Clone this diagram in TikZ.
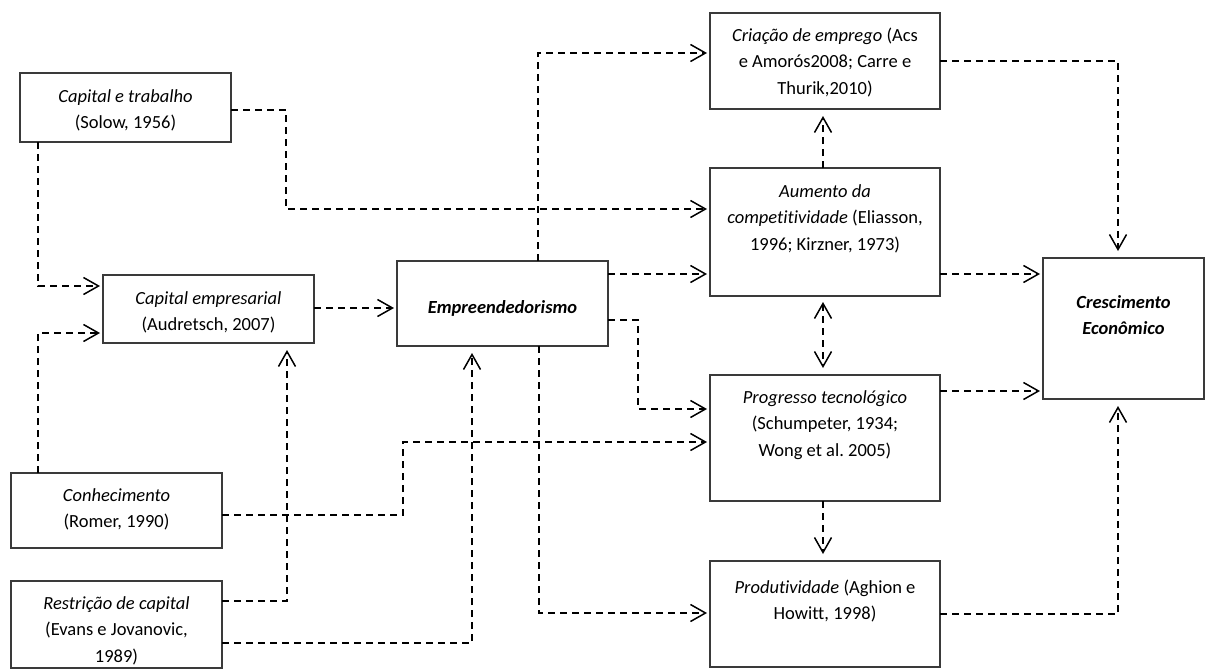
\documentclass[tikz,border=0pt]{standalone}
\usepackage{fontspec}
\setmainfont{Carlito}[Ligatures={NoCommon}]
\usetikzlibrary{arrows.meta}
\frenchspacing
\definecolor{boxgray}{HTML}{3A3A3A}
\newcommand{\bxt}[4]{\parbox[c][#2pt][t]{#1pt}{\centering\fontsize{18.5pt}{26.5pt}\selectfont\rule{0pt}{#3pt}#4\par}}
\tikzset{
  bx/.style={draw=boxgray, line width=1.1pt, inner sep=0pt, outer sep=0pt, anchor=north west},
  con/.style={draw=black, line width=1.5pt, dash pattern=on 7pt off 5pt, -{Straight Barb[length=15pt,width=17pt,line width=1.5pt]}},
  hcon/.style={con, shorten >=3pt},
  vcon/.style={con, shorten >=7pt},
}
\begin{document}
\begin{tikzpicture}[x=1pt,y=-1pt]
\useasboundingbox (0,0) rectangle (1205,670);
% boxes
\node[bx] (ct) at (20,73)   {\bxt{211}{69}{29}{\textit{Capital e trabalho}\\(Solow, 1956)}};
\node[bx] (ce) at (103,275) {\bxt{211}{68}{29}{\textit{Capital empresarial}\\(Audretsch, 2007)}};
\node[bx] (cn) at (11,473)  {\bxt{211}{75}{28}{\textit{Conhecimento}\\(Romer, 1990)}};
\node[bx] (rs) at (11,581)  {\bxt{211}{87}{28}{\textit{Restrição de capital}\\(Evans e Jovanovic,\\1989)}};
\node[bx] (em) at (397,261) {\bxt{211}{85}{52}{\textbf{\textit{Empreendedorismo}}}};
\node[bx] (cr) at (710,13)  {\bxt{230}{96}{28}{\textit{Criação de emprego} (Acs\\e Amorós2008; Carre e\\Thurik,2010)}};
\node[bx] (au) at (710,168) {\bxt{230}{128}{29}{\textit{Aumento da}\\\textit{competitividade} (Eliasson,\\1996; Kirzner, 1973)}};
\node[bx] (pr) at (710,375) {\bxt{230}{126}{28}{\textit{Progresso tecnológico}\\(Schumpeter, 1934;\\Wong et al. 2005)}};
\node[bx] (pd) at (710,561) {\bxt{230}{106}{32}{\textit{Produtividade} (Aghion e\\Howitt, 1998)}};
\node[bx] (gr) at (1043,258){\bxt{161}{141}{50}{\textbf{\textit{Crescimento}}\\\textbf{\textit{Econômico}}}};
% connectors
\draw[hcon] (ct.east |- 0,110) -- (286,110) |- (au.west |- 0,209);
\draw[hcon] (ct.south -| 38,0) |- (ce.west |- 0,286);
\draw[hcon] (cn.north -| 38,0) |- (ce.west |- 0,333);
\draw[hcon] (ce.east |- 0,308) -- (em.west |- 0,308);
\draw[hcon] (cn.east |- 0,515) -- (403,515) |- (pr.west |- 0,442);
\draw[vcon] (rs.east |- 0,601) -| (ce.south -| 287,0);
\draw[vcon] (rs.east |- 0,643) -| (em.south -| 472,0);
\draw[hcon] (em.north -| 538,0) |- (cr.west |- 0,53);
\draw[hcon] (em.east |- 0,274) -- (au.west |- 0,274);
\draw[hcon] (em.east |- 0,320) -- (638,320) |- (pr.west |- 0,409);
\draw[hcon] (em.south -| 539,0) |- (pd.west |- 0,613);
\draw[vcon] (au.north -| 823,0) -- (cr.south -| 823,0);
\draw[vcon, shorten <=6pt, {Straight Barb[length=15pt,width=17pt,line width=1.5pt]}-{Straight Barb[length=15pt,width=17pt,line width=1.5pt]}] (au.south -| 823,0) -- (pr.north -| 823,0);
\draw[vcon] (pr.south -| 823,0) -- (pd.north -| 823,0);
\draw[vcon] (cr.east |- 0,61) -| (gr.north -| 1118,0);
\draw[hcon] (au.east |- 0,274) -- (gr.west |- 0,274);
\draw[hcon] (pr.east |- 0,391) -- (gr.west |- 0,391);
\draw[vcon] (pd.east |- 0,614) -| (gr.south -| 1118,0);
\end{tikzpicture}
\end{document}
